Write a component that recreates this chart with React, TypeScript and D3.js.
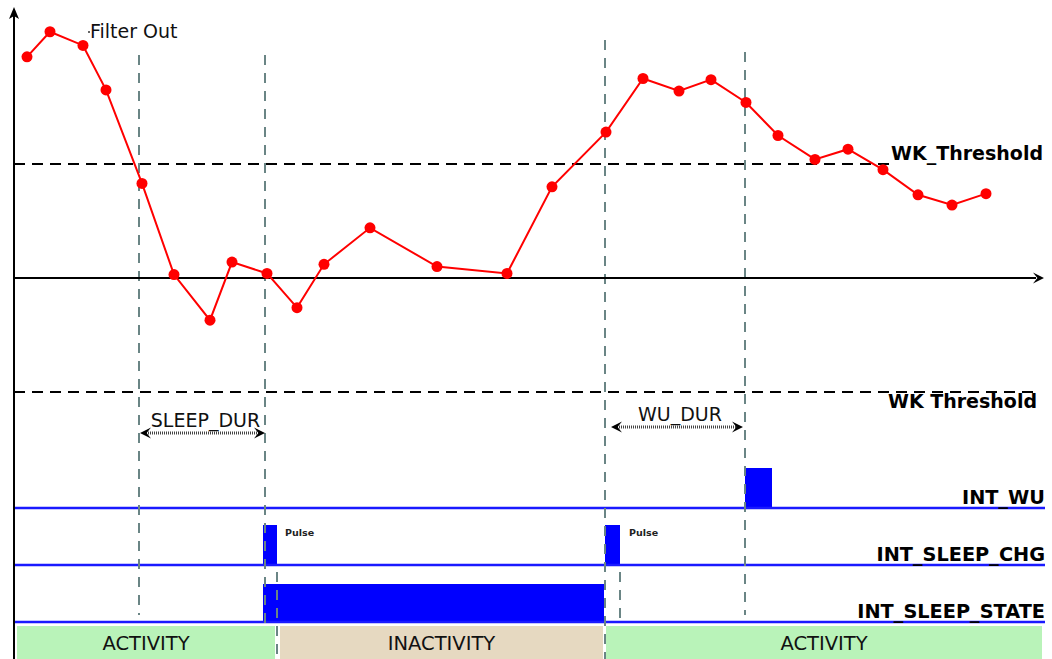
import React from "react";
import * as d3 from "d3";

// ---- data ----
const sampleTimes = [13, 36, 69, 92, 128, 160, 196, 218, 253, 283, 310, 356, 423, 493, 538, 592, 629, 665, 697, 732, 764, 801, 834, 869, 904, 938, 972];
const filterValues = [1.94, 2.16, 2.04, 1.65, 0.83, 0.03, -0.37, 0.14, 0.04, -0.26, 0.12, 0.44, 0.1, 0.04, 0.8, 1.28, 1.75, 1.64, 1.74, 1.54, 1.25, 1.04, 1.13, 0.95, 0.73, 0.64, 0.74];
const wkThreshold = 1;
const signalRows = ["INT_WU", "INT_SLEEP_CHG", "INT_SLEEP_STATE"];
const pulseStarts = [731, 249, 591, 249];
const pulseEnds = [758, 263, 606, 590];
const pulseRows = ["INT_WU", "INT_SLEEP_CHG", "INT_SLEEP_CHG", "INT_SLEEP_STATE"];
const phaseLabels = ["ACTIVITY", "INACTIVITY", "ACTIVITY"];
const phaseStarts = [3, 266, 592];
const phaseEnds = [261, 589, 1028];
const sleepDur = [126, 251];
const wuDur = [597, 729];
const markerTimes = [125, 251, 263, 591, 606, 731];

export default function App() {
  const W = 1052, H = 659;
  const x = d3.scaleLinear().domain([0, 1028]).range([14, 1042]);
  const y = d3.scaleLinear().domain([-wkThreshold, wkThreshold]).range([392, 164]);
  const row = d3.scalePoint<string>().domain(signalRows).range([508, 622]);
  const pulseH = 40;
  const font = "DejaVu Sans";
  const pts = sampleTimes.map((t, i) => [t, filterValues[i]] as [number, number]);
  const line = d3.line<[number, number]>().x(d => x(d[0])).y(d => y(d[1]));
  const markerExtents: [number, number][] = [[55, 615], [55, 627], [572, 659], [40, 659], [572, 622], [52, 615]];
  const phaseColors = ["#b9f3b9", "#e6d9c1", "#b9f3b9"];
  const blue = "#0000ff";

  const arrowHead = (tx: number, ty: number, dir: number) => {
    const l = 11, h = 5.5;
    return `M${tx},${ty} L${tx - dir * l},${ty - h} L${tx - dir * l * 0.6},${ty} L${tx - dir * l},${ty + h} Z`;
  };

  return (
    <svg width={W} height={H} style={{ position: "absolute", left: 0, top: 0, background: "#fff" }} fontFamily={font}>
      {/* phase bands */}
      {phaseLabels.map((lab, i) => (
        <g key={"ph" + i}>
          <rect x={x(phaseStarts[i])} y={626} width={x(phaseEnds[i]) - x(phaseStarts[i])} height={H - 626} fill={phaseColors[i]} />
          <text x={(x(phaseStarts[i]) + x(phaseEnds[i])) / 2} y={650} textAnchor="middle" fontSize={19.5} fill="#111">{lab}</text>
        </g>
      ))}

      {/* thresholds */}
      <line x1={x(0)} x2={890} y1={y(wkThreshold)} y2={y(wkThreshold)} stroke="#000" strokeWidth={2} strokeDasharray="11,7" />
      <line x1={x(0)} x2={1035} y1={y(-wkThreshold)} y2={y(-wkThreshold)} stroke="#000" strokeWidth={2} strokeDasharray="11,7" />
      <text x={1043} y={160} textAnchor="end" fontSize={19} fontWeight="bold" fill="#000">WK_Threshold</text>
      <text x={1037} y={408} textAnchor="end" fontSize={19} fontWeight="bold" fill="#000">WK Threshold</text>

      {/* signal rows */}
      {pulseStarts.map((s, i) => (
        <rect key={"p" + i} x={x(s)} y={(row(pulseRows[i]) as number) - (pulseRows[i] === "INT_SLEEP_STATE" ? 38 : pulseH)} width={x(pulseEnds[i]) - x(s)} height={pulseRows[i] === "INT_SLEEP_STATE" ? 38 : pulseH} fill={blue} />
      ))}
      {signalRows.map(r => (
        <g key={r}>
          <line x1={x(0)} x2={1045} y1={row(r)} y2={row(r)} stroke="#1a1aff" strokeWidth={2.5} />
          <text x={1045} y={(row(r) as number) - 4} textAnchor="end" fontSize={19.3} fontWeight="bold" fill="#000">{r}</text>
        </g>
      ))}
      <text x={285} y={536} fontSize={9.5} fontWeight="bold" fill="#222">Pulse</text>
      <text x={629} y={536} fontSize={9.5} fontWeight="bold" fill="#222">Pulse</text>

      {/* marker lines */}
      {markerTimes.map((t, i) => (
        <line key={"m" + i} x1={x(t)} x2={x(t)} y1={markerExtents[i][0]} y2={markerExtents[i][1]} stroke="#6a8585" strokeWidth={2} strokeDasharray="10,8" />
      ))}

      {/* duration arrows */}
      {[[sleepDur, 433, "SLEEP_DUR", 427], [wuDur, 427, "WU_DUR", 421]].map(([d, ay, lab, ty]: any, i) => (
        <g key={"a" + i}>
          <line x1={x(d[0]) + 6} x2={x(d[1]) - 6} y1={ay} y2={ay} stroke="#444" strokeWidth={3} strokeDasharray="1,1" />
          <path d={arrowHead(x(d[0]), ay, -1)} fill="#000" />
          <path d={arrowHead(x(d[1]), ay, 1)} fill="#000" />
          <text x={(x(d[0]) + x(d[1])) / 2 + 3} y={ty} textAnchor="middle" fontSize={19} fill="#111">{lab}</text>
        </g>
      ))}

      {/* axes */}
      <line x1={x(0)} x2={x(0)} y1={H} y2={16} stroke="#000" strokeWidth={2} />
      <path d={`M${x(0)},7 L${x(0) - 5},19 L${x(0)},16 L${x(0) + 5},19 Z`} fill="#000" />
      <line x1={x(0)} x2={1036} y1={y(0)} y2={y(0)} stroke="#000" strokeWidth={2} />
      <path d={arrowHead(1044, y(0), 1)} fill="#000" />

      {/* filter output */}
      <path d={line(pts) as string} fill="none" stroke="#ff0000" strokeWidth={2} />
      {pts.map((p, i) => (
        <circle key={"c" + i} cx={x(p[0])} cy={y(p[1])} r={5.5} fill="#ff0000" />
      ))}
      <circle cx={89} cy={32} r={1} fill="#333" />
      <text x={90} y={38} fontSize={19} fill="#111">Filter Out</text>
    </svg>
  );
}
